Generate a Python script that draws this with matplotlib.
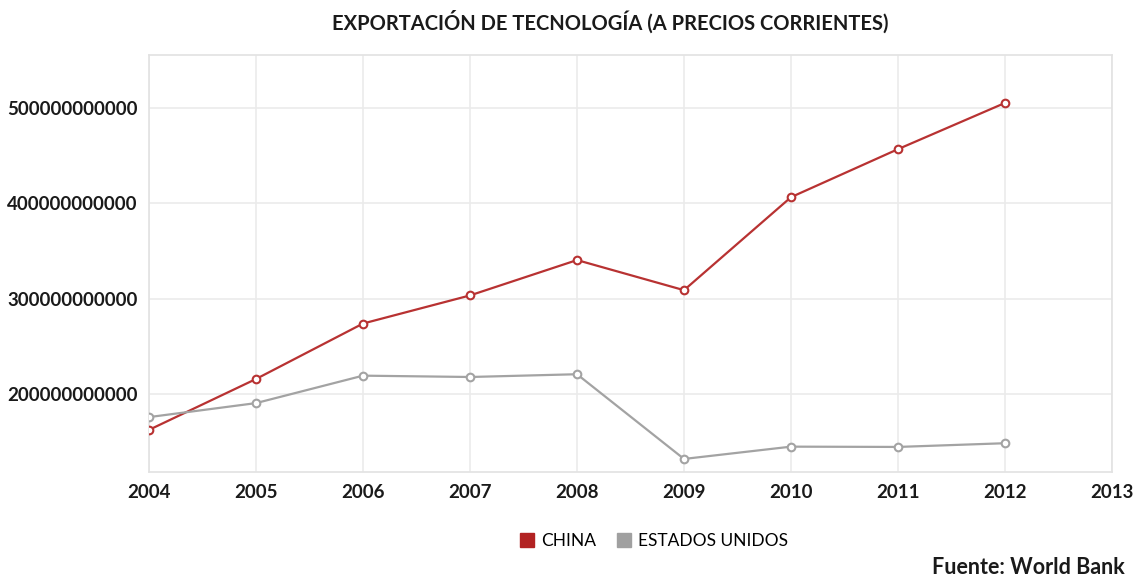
import matplotlib.pyplot as plt
from matplotlib.lines import Line2D

plt.rcParams['font.family'] = ['Lato', 'DejaVu Sans']

years = [2004, 2005, 2006, 2007, 2008, 2009, 2010, 2011, 2012]
china = [162.4e9, 215.8e9, 274e9, 303.5e9, 340.6e9, 309e9, 406.6e9, 457e9, 505.5e9]
usa = [175.8e9, 190.5e9, 219.3e9, 217.9e9, 220.8e9, 131.9e9, 144.8e9, 144.5e9, 148.4e9]
xticks = list(range(2004, 2014))
yticks = [200e9, 300e9, 400e9, 500e9]

red = '#b83232'
grey = '#a3a3a3'

fig = plt.figure(figsize=(11.34, 5.79), dpi=100)
ax = fig.add_axes([0.1314, 0.1853, 0.8492, 0.7197])

ax.plot(years, china, color=red, lw=1.6, marker='o', ms=5.5,
        mfc='white', mec=red, mew=1.5, zorder=3)
ax.plot(years, usa, color=grey, lw=1.6, marker='o', ms=5.5,
        mfc='white', mec=grey, mew=1.5, zorder=3)

ax.set_xlim(2004, 2013)
ax.set_ylim(118.5e9, 555.8e9)
ax.set_xticks(xticks)
ax.set_yticks(yticks)
ax.set_yticklabels([f'{int(v)}' for v in yticks])
ax.tick_params(axis='y', length=0, labelsize=13.5, pad=8)
ax.tick_params(axis='x', length=0, labelsize=13.5, pad=9)
for lbl in ax.get_xticklabels() + ax.get_yticklabels():
    lbl.set_fontweight('bold')
    lbl.set_color('#1a1a1a')
ax.grid(True, color='#ebebeb', lw=1.2)
ax.set_axisbelow(True)
for s in ax.spines.values():
    s.set_color('#e2e2e2')
    s.set_linewidth(1.2)

fig.text(0.538, 0.962, 'EXPORTACIÓN DE TECNOLOGÍA (A PRECIOS CORRIENTES)',
         ha='center', va='center', fontsize=14.5, fontweight='bold', color='#1a1a1a')

# legend with square swatches
handles = [Line2D([], [], ls='', marker='s', ms=10, mfc='#b22222', mec='#b22222'),
           Line2D([], [], ls='', marker='s', ms=10, mfc='#a0a0a0', mec='#a0a0a0')]
fig.legend(handles, ['CHINA', 'ESTADOS UNIDOS'], loc='center', ncol=2,
           bbox_to_anchor=(0.575, 0.065), frameon=False, fontsize=12.5,
           handletextpad=0.2, columnspacing=1.0, handlelength=1.2)

fig.text(0.992, 1 - 568 / 579, 'Fuente: World Bank', ha='right', va='center',
         fontsize=15.5, fontweight='bold', color='#1a1a1a')

fig.savefig('out.png', dpi=100)
